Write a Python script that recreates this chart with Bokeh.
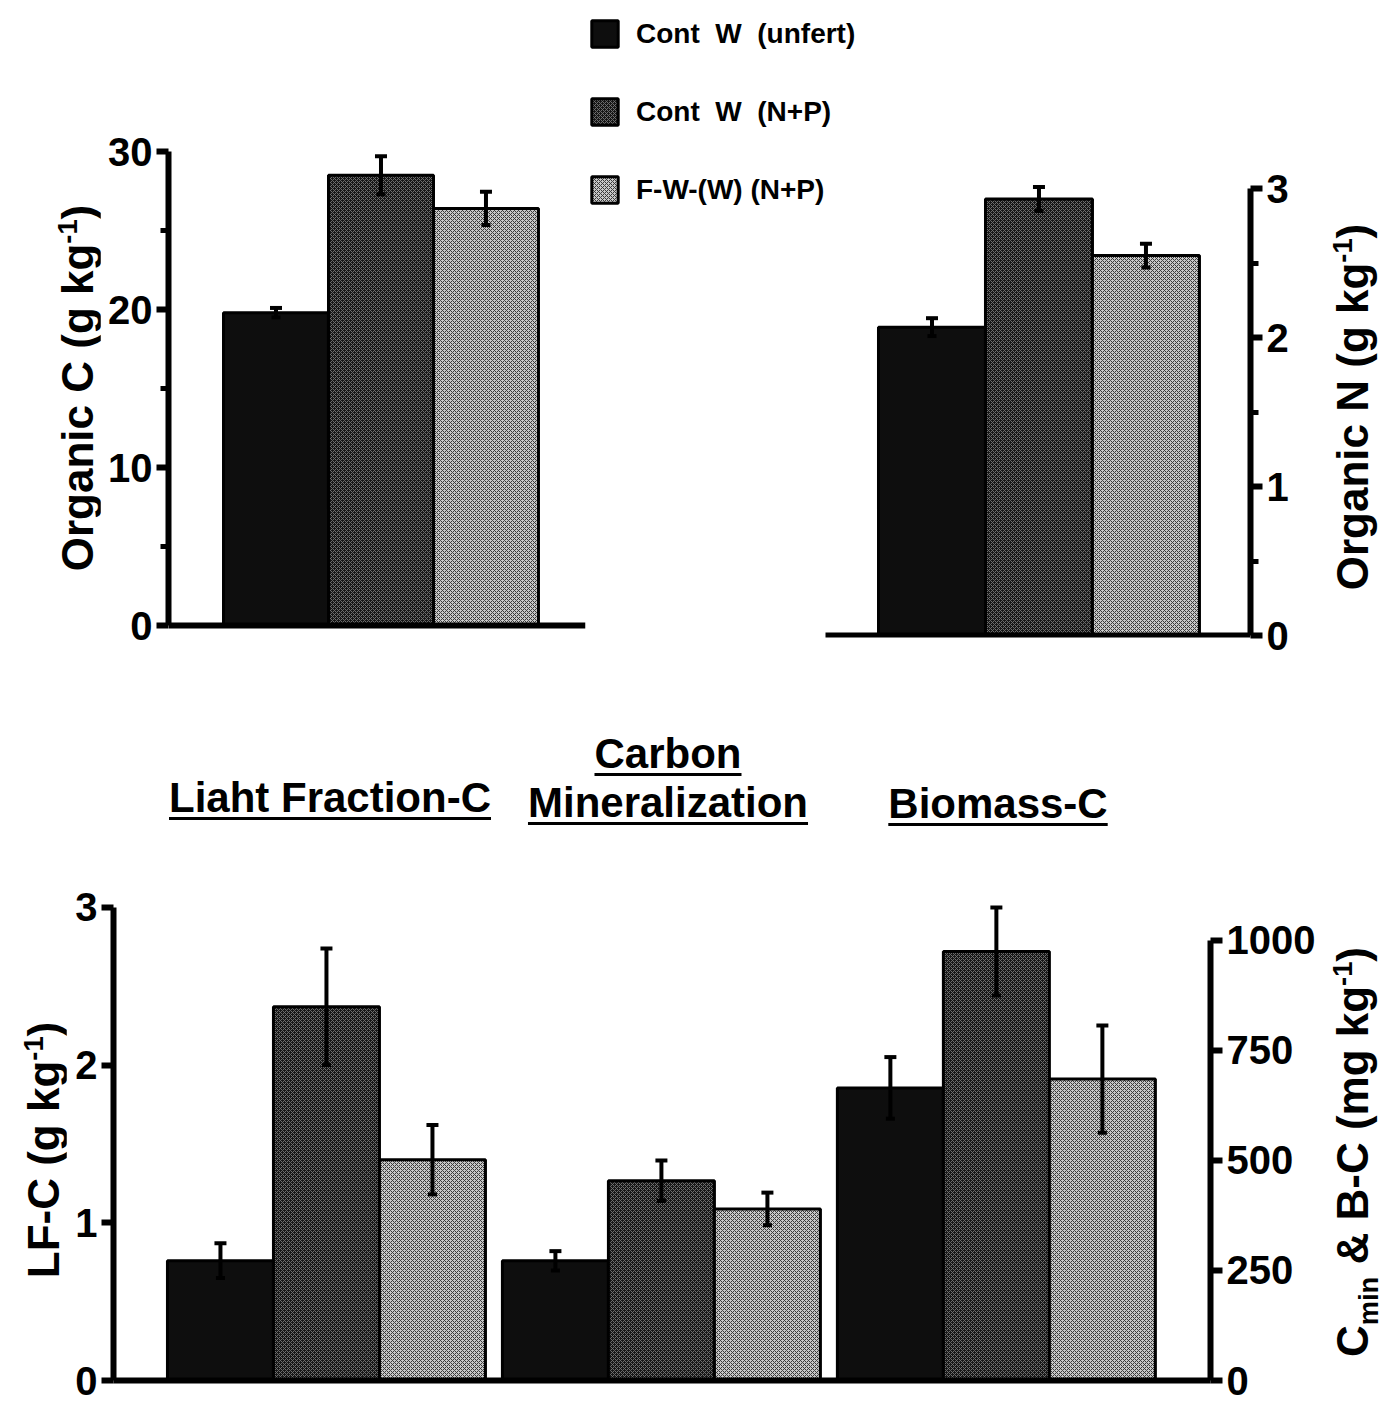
import numpy as np
from bokeh.plotting import figure
from bokeh.models import (Range1d, LinearAxis, FixedTicker, Whisker, TeeHead,
                          ColumnDataSource, Legend, LegendItem, Div)
from bokeh.layouts import row, column
from bokeh.embed import file_html
from bokeh.resources import INLINE

# ---------------- data ----------------
treatments = ["Cont  W  (unfert)", "Cont  W  (N+P)", "F-W-(W) (N+P)"]

org_c = [19.8, 28.5, 26.4]
org_c_err = [0.3, 1.2, 1.05]

org_n = [2.07, 2.93, 2.55]
org_n_err = [0.06, 0.08, 0.08]

lf_c = [0.76, 2.37, 1.40]
lf_c_err = [0.11, 0.37, 0.22]

c_min = [272, 454, 390]
c_min_err = [22, 46, 37]

biomass_c = [665, 975, 685]
biomass_c_err = [70, 100, 122]

group_titles = ["Liaht Fraction-C", "Carbon\nMineralization", "Biomass-C"]
axis_titles = {
    "c": "Organic C (g kg<sup style='font-size:0.62em'>-1</sup>)",
    "n": "Organic N (g kg<sup style='font-size:0.62em'>-1</sup>)",
    "lf": "LF-C (g kg<sup style='font-size:0.62em'>-1</sup>)",
    "cb": "C<sub style='font-size:0.62em'>min</sub> &amp; B-C (mg kg"
          "<sup style='font-size:0.62em'>-1</sup>)",
}

c_ticks = [0, 10, 20, 30]
c_minor = [5, 15, 25]
n_ticks = [0, 1, 2, 3]
n_minor = [0.5, 1.5, 2.5]
lf_ticks = [0, 1, 2, 3]
cb_ticks = [0, 250, 500, 750, 1000]

# ---------------- styles ----------------
FONT = "Liberation Sans"
STYLES = [
    dict(fill_color="#0e0e0e"),
    dict(fill_color="#161616", hatch_pattern="diagonal_cross", hatch_color="#6e6e6e",
         hatch_scale=4, hatch_weight=1),
    dict(fill_color="#c8c8c8", hatch_pattern="diagonal_cross", hatch_color="#3a3a3a",
         hatch_scale=4, hatch_weight=1),
]


def style_y(ax, ticks, minor=None):
    ax.ticker = FixedTicker(ticks=ticks, minor_ticks=minor or [])
    ax.axis_line_width = 6
    ax.axis_line_color = "black"
    ax.major_tick_line_width = 6
    ax.major_tick_out = 12
    ax.major_tick_in = 0
    ax.minor_tick_line_width = 5
    ax.minor_tick_out = 8
    ax.minor_tick_in = 0
    ax.major_label_text_font = FONT
    ax.major_label_text_font_size = "40px"
    ax.major_label_text_font_style = "bold"
    ax.major_label_text_color = "black"
    ax.major_label_standoff = 4


def style_x(ax):
    ax.ticker = FixedTicker(ticks=[])
    ax.axis_line_width = 6
    ax.axis_line_color = "black"
    ax.major_label_text_font_size = "0px"


def base_fig(fw, fh, xr, yr, left, right, top, bottom, yloc):
    p = figure(frame_width=fw, frame_height=fh, x_range=xr, y_range=yr,
               output_backend="svg", toolbar_location=None,
               min_border_left=left, min_border_right=right,
               min_border_top=top, min_border_bottom=bottom, y_axis_location=yloc)
    try:
        p.title = None
    except Exception:
        pass
    p.grid.visible = False
    p.outline_line_color = None
    p.background_fill_color = "white"
    p.border_fill_color = "white"
    return p


def add_whiskers(p, xs, vals, errs, range_name="default"):
    src = ColumnDataSource(dict(x=list(xs),
                                l=[v - e for v, e in zip(vals, errs)],
                                u=[v + e for v, e in zip(vals, errs)]))
    w = Whisker(source=src, base="x", lower="l", upper="u", line_width=4,
                line_color="black", level="overlay",
                upper_head=TeeHead(size=12, line_width=4, line_color="black"),
                lower_head=TeeHead(size=9, line_width=4, line_color="black"))
    if range_name != "default":
        w.y_range_name = range_name
    p.add_layout(w)


def vlabel(html, w, h, cx, cy):
    inner = (f'<div style="position:relative;width:{w}px;height:{h}px;">'
             f'<div style="position:absolute;left:{cx}px;top:{cy}px;'
             f'transform:translate(-50%,-50%) rotate(-90deg);white-space:nowrap;'
             f"font-family:'{FONT}',Arial,sans-serif;font-weight:bold;font-size:44px;"
             f'line-height:44px;color:black;">{html}</div></div>')
    return Div(text=inner, width=w, height=h, margin=0)


xpos = np.arange(len(treatments))

# ---------------- top left: organic C ----------------
lab_c = vlabel(axis_titles["c"], 100, 680, 73, 388)
pa = base_fig(417, 634, Range1d(-1.024, 2.948), Range1d(-0.759, 39.37), 68, 1, 3, 43, "left")
style_y(pa.yaxis[0], c_ticks, c_minor)
pa.yaxis[0].bounds = (0, 30)
style_x(pa.xaxis[0])
pa.xaxis[0].fixed_location = 0
for i in range(len(treatments)):
    pa.vbar(x=[xpos[i]], top=[org_c[i]], width=1, line_color="black", line_width=3, **STYLES[i])
add_whiskers(pa, xpos, org_c, org_c_err)

# ---------------- top right: organic N + legend ----------------
pb = base_fig(664, 634, Range1d(-3.229, 2.977), Range1d(-0.013, 4.242), 0, 50, 3, 43, "right")
style_y(pb.yaxis[0], n_ticks, n_minor)
pb.yaxis[0].bounds = (0, 3)
style_x(pb.xaxis[0])
pb.xaxis[0].bounds = (-0.995, 2.977)
pb.xaxis[0].fixed_location = 0
rb = []
for i in range(len(treatments)):
    rb.append(pb.vbar(x=[xpos[i]], top=[org_n[i]], width=1, line_color="black",
                      line_width=3, **STYLES[i]))
add_whiskers(pb, xpos, org_n, org_n_err)

legend = Legend(items=[LegendItem(label=t, renderers=[r]) for t, r in zip(treatments, rb)],
                location=(2, 431), spacing=45, glyph_width=33, glyph_height=33,
                label_standoff=15, label_height=33, padding=0, margin=0,
                border_line_color=None, background_fill_alpha=0,
                label_text_font=FONT, label_text_font_size="28px",
                label_text_font_style="bold", label_text_color="black")
pb.add_layout(legend)

lab_n = vlabel(axis_titles["n"], 97, 680, 48, 407)

# ---------------- titles ----------------
title_layout = [(330, 97, 42), (668, 49, 49), (998, 103, 42)]  # centre x, top, line height
spans = []
for t, (cx, top, lh) in zip(group_titles, title_layout):
    spans.append(
        f'<div style="position:absolute;left:{cx}px;top:{top}px;transform:translateX(-50%);'
        f"white-space:nowrap;text-align:center;font-family:'{FONT}',Arial,sans-serif;"
        f'font-weight:bold;font-size:42px;line-height:{lh}px;color:black;'
        f'text-decoration:underline;text-decoration-thickness:3px;text-underline-offset:5px;">'
        + t.replace("\n", "<br>") + "</div>")
titles = Div(text='<div style="position:relative;width:1397px;height:170px;">'
             + "".join(spans) + "</div>", width=1397, height=170, margin=0)

# ---------------- bottom panel ----------------
GAP = 3.16
lab_lf = vlabel(axis_titles["lf"], 66, 558, 39, 300)
pc = base_fig(1097, 490, Range1d(-2.009, 8.34), Range1d(0, 3.107), 47, 110, 40, 28, "left")
pc.extra_y_ranges = {"r": Range1d(0, 1113.6)}
style_y(pc.yaxis[0], lf_ticks)
pc.yaxis[0].bounds = (0, 3)
rax = LinearAxis(y_range_name="r")
style_y(rax, cb_ticks)
rax.bounds = (0, 1000)
pc.add_layout(rax, "right")
style_x(pc.xaxis[0])

groups = np.arange(3) * GAP
for i in range(len(treatments)):
    x_lf = groups[0] + (i - 1)
    pc.vbar(x=[x_lf], top=[lf_c[i]], width=1, line_color="black", line_width=3, **STYLES[i])
    xs_r = [groups[1] + (i - 1), groups[2] + (i - 1)]
    pc.vbar(x=xs_r, top=[c_min[i], biomass_c[i]], width=1, line_color="black",
            line_width=3, y_range_name="r", **STYLES[i])

add_whiskers(pc, groups[0] + xpos - 1, lf_c, lf_c_err)
add_whiskers(pc, groups[1] + xpos - 1, c_min, c_min_err, "r")
add_whiskers(pc, groups[2] + xpos - 1, biomass_c, biomass_c_err, "r")

lab_cb = vlabel(axis_titles["cb"], 77, 558, 36, 302)

layout = column(row(lab_c, pa, pb, lab_n), titles, row(lab_lf, pc, lab_cb))
open("out.html", "w").write(file_html(layout, INLINE))
